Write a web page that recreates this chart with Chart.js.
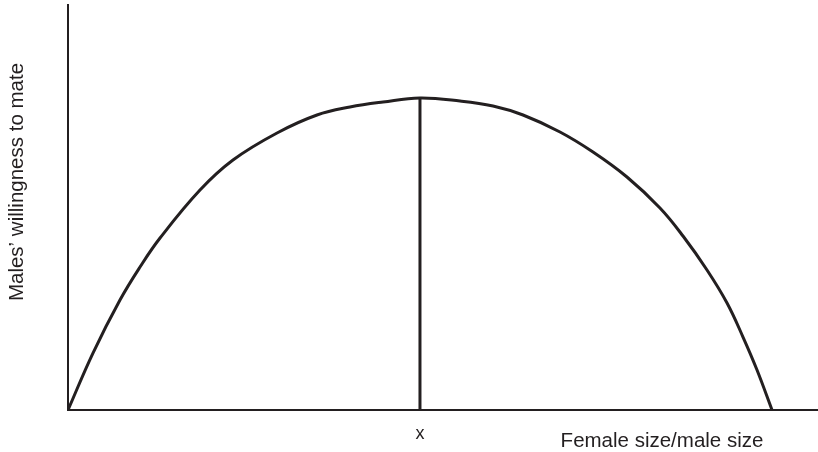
<!DOCTYPE html>
<html>
<head>
<meta charset="utf-8">
<script src="https://cdn.jsdelivr.net/npm/chart.js@4/dist/chart.umd.min.js"></script>
<style>
  html, body { margin: 0; padding: 0; background: #fff; }
  #wrap { width: 818px; height: 452px; }
</style>
</head>
<body>
<div id="wrap"><canvas id="c"></canvas></div>
<script>
// curve (x: size ratio, y: willingness), both on 0-100
var curveX = [0, 3.33, 6.93, 9.6, 12.27, 17.6, 22, 27.87, 33.2, 37.6, 42, 46.93, 52.27, 56.67, 60.67, 65.6, 70, 74.53, 78.93, 82, 85.2, 87.87, 90, 91.87, 93.87];
var curveY = [0, 14.07, 27.16, 35.31, 42.47, 54.32, 61.73, 68.4, 72.84, 74.81, 76.05, 77.04, 76.3, 75.06, 72.84, 68.64, 63.7, 57.53, 49.88, 42.96, 34.57, 26.42, 18.02, 9.88, 0];
var peakX = 46.93;
var peakY = 77.04;
var tickLabels = ['x'];
var xTitle = 'Female size/male size';
var yTitle = "Males\u2019 willingness to mate";

var ink = '#231f20';
var fontFam = '"Liberation Sans", Arial, Helvetica, sans-serif';

var curvePts = [];
for (var i = 0; i < curveX.length; i++) {
    curvePts.push({x: curveX[i], y: curveY[i]});
}

// axis titles placed where the original puts them
var titlesPlugin = {
    id: 'titles',
    afterDraw: function(chart) {
        var ctx = chart.ctx;
        ctx.save();
        ctx.fillStyle = ink;
        ctx.font = '20.5px ' + fontFam;
        ctx.textAlign = 'center';
        ctx.textBaseline = 'middle';
        ctx.fillText(xTitle, 662, 441);
        ctx.translate(17, 182);
        ctx.rotate(-Math.PI / 2);
        ctx.fillText(yTitle, 0, 0);
        ctx.restore();
    }
};

new Chart(document.getElementById('c'), {
    type: 'line',
    data: {
        datasets: [
            {
                data: curvePts,
                borderColor: ink,
                borderWidth: 3,
                pointRadius: 0,
                fill: false,
                tension: 0.4
            },
            {
                data: [{x: peakX, y: 0}, {x: peakX, y: peakY}],
                borderColor: ink,
                borderWidth: 3,
                pointRadius: 0,
                fill: false,
                tension: 0
            }
        ]
    },
    options: {
        responsive: true,
        maintainAspectRatio: false,
        animation: false,
        layout: { padding: { top: 5, right: 0, left: 0, bottom: 0 } },
        plugins: { legend: { display: false }, tooltip: { enabled: false } },
        scales: {
            x: {
                type: 'linear',
                min: 0,
                max: 100,
                grid: { display: false, drawTicks: false },
                border: { display: true, color: ink, width: 2 },
                afterBuildTicks: function(scale) {
                    scale.ticks = [{value: peakX}];
                },
                afterFit: function(scale) { scale.height = 42; },
                ticks: {
                    color: ink,
                    padding: 13,
                    autoSkip: false,
                    maxRotation: 0,
                    font: { family: fontFam, size: 18 },
                    callback: function() { return tickLabels[0]; }
                }
            },
            y: {
                min: 0,
                max: 100,
                grid: { display: false, drawTicks: false },
                border: { display: true, color: ink, width: 2 },
                afterFit: function(scale) { scale.width = 68; },
                ticks: { display: false }
            }
        }
    },
    plugins: [titlesPlugin]
});
</script>
</body>
</html>
